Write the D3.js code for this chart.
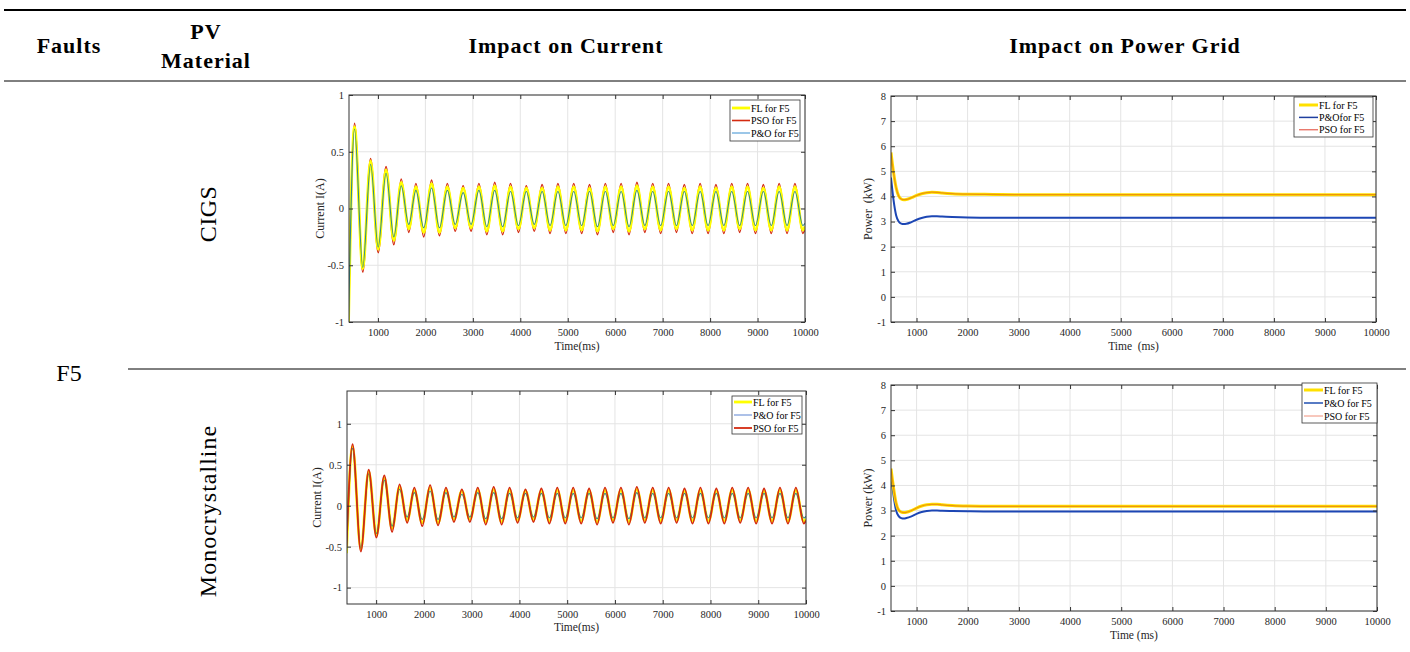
<!DOCTYPE html>
<html>
<head>
<meta charset="utf-8">
<script src="https://cdn.jsdelivr.net/npm/d3@7"></script>
<style>
  body { margin: 0; background: #fff; }
  svg text { font-family: "Liberation Serif", "Times New Roman", serif; }
</style>
</head>
<body>
<div id="chart"></div>
<script>
// Fault F5 table: current and grid power for two PV materials

// times (ms) of the current peaks / troughs
var currentTimes = [380, 506, 680, 845, 1005, 1170, 1335, 1490, 1650, 1800,
  1965, 2130, 2296, 2462, 2629, 2795, 2962, 3128, 3295, 3461,
  3628, 3794, 3961, 4127, 4294, 4460, 4627, 4793, 4960, 5126,
  5293, 5459, 5626, 5792, 5959, 6125, 6292, 6458, 6625, 6791,
  6958, 7124, 7291, 7457, 7624, 7790, 7957, 8123, 8290, 8456,
  8623, 8789, 8956, 9122, 9289, 9455, 9622, 9788, 9955, 10000];

// CIGS current (A) at those times
var cigsPsoCurrent = [-1.00, 0.75, -0.56, 0.44, -0.39, 0.37, -0.32, 0.26, -0.21, 0.22,
  -0.25, 0.25, -0.24, 0.22, -0.20, 0.20, -0.20, 0.22, -0.23, 0.23,
  -0.23, 0.22, -0.21, 0.20, -0.20, 0.21, -0.22, 0.22, -0.22, 0.22,
  -0.22, 0.21, -0.23, 0.22, -0.21, 0.22, -0.23, 0.23, -0.21, 0.22,
  -0.22, 0.22, -0.21, 0.21, -0.22, 0.22, -0.22, 0.21, -0.22, 0.22,
  -0.21, 0.22, -0.22, 0.21, -0.22, 0.22, -0.22, 0.22, -0.22, -0.18];
var cigsFlCurrent = [-1.00, 0.72, -0.53, 0.42, -0.36, 0.34, -0.28, 0.23, -0.18, 0.19,
  -0.21, 0.22, -0.21, 0.19, -0.17, 0.18, -0.17, 0.19, -0.20, 0.20,
  -0.20, 0.19, -0.18, 0.18, -0.17, 0.18, -0.19, 0.19, -0.19, 0.19,
  -0.19, 0.18, -0.20, 0.19, -0.18, 0.19, -0.20, 0.20, -0.18, 0.19,
  -0.19, 0.19, -0.18, 0.18, -0.19, 0.19, -0.19, 0.18, -0.19, 0.19,
  -0.18, 0.19, -0.19, 0.18, -0.19, 0.19, -0.19, 0.19, -0.19, -0.16];
var cigsPoCurrent = [-1.00, 0.70, -0.52, 0.39, -0.34, 0.31, -0.25, 0.20, -0.14, 0.16,
  -0.17, 0.18, -0.17, 0.16, -0.14, 0.14, -0.14, 0.16, -0.16, 0.16,
  -0.16, 0.15, -0.15, 0.15, -0.14, 0.15, -0.15, 0.15, -0.15, 0.15,
  -0.15, 0.15, -0.16, 0.15, -0.15, 0.15, -0.16, 0.16, -0.15, 0.15,
  -0.15, 0.15, -0.15, 0.15, -0.15, 0.15, -0.15, 0.15, -0.15, 0.15,
  -0.15, 0.15, -0.15, 0.15, -0.15, 0.15, -0.15, 0.15, -0.15, -0.13];

// Monocrystalline current looks the same, only the start differs
var monoPsoCurrent = [-0.50].concat(cigsPsoCurrent.slice(1));
var monoFlCurrent = [-0.58].concat(cigsFlCurrent.slice(1));
var monoPoCurrent = [-0.55].concat(cigsPoCurrent.slice(1));

// grid power (kW)
var powerTimes = [500, 550, 600, 650, 700, 750, 800, 900, 1000, 1100,
  1200, 1300, 1400, 1500, 1700, 2000, 2500, 3000, 5000, 7500, 10000];
var cigsFlPower = [5.75, 4.95, 4.35, 4.02, 3.90, 3.87, 3.88, 3.95, 4.04, 4.11,
  4.15, 4.17, 4.16, 4.14, 4.11, 4.09, 4.08, 4.07, 4.07, 4.07, 4.07];
var cigsPsoPower = [5.75, 4.95, 4.35, 4.02, 3.90, 3.87, 3.88, 3.95, 4.04, 4.11,
  4.15, 4.17, 4.16, 4.14, 4.11, 4.09, 4.08, 4.07, 4.07, 4.07, 4.07];
var cigsPoPower = [4.75, 3.85, 3.25, 3.00, 2.92, 2.90, 2.91, 2.98, 3.07, 3.14,
  3.19, 3.21, 3.21, 3.20, 3.18, 3.16, 3.15, 3.15, 3.15, 3.15, 3.15];
var monoFlPower = [4.67, 3.90, 3.30, 3.02, 2.94, 2.92, 2.93, 3.00, 3.10, 3.18,
  3.23, 3.25, 3.25, 3.23, 3.20, 3.18, 3.17, 3.17, 3.17, 3.17, 3.17];
var monoPsoPower = [4.67, 3.90, 3.30, 3.02, 2.94, 2.92, 2.93, 3.00, 3.10, 3.18,
  3.23, 3.25, 3.25, 3.23, 3.20, 3.18, 3.17, 3.17, 3.17, 3.17, 3.17];
var monoPoPower = [4.45, 3.60, 3.00, 2.78, 2.70, 2.68, 2.70, 2.77, 2.87, 2.94,
  2.98, 3.00, 3.00, 2.99, 2.98, 2.97, 2.96, 2.96, 2.96, 2.96, 2.96];

// tick labels
var timeTicks = [1000, 2000, 3000, 4000, 5000, 6000, 7000, 8000, 9000, 10000];
var currentTicks = [-1, -0.5, 0, 0.5, 1];
var powerTicks = [-1, 0, 1, 2, 3, 4, 5, 6, 7, 8];

// table texts
var headers = ["Faults", "Impact on Current", "Impact on Power Grid"];
var pvHeader = ["PV", "Material"];
var faultName = "F5";
var materials = ["CIGS", "Monocrystalline"];

// svg container
var svgWidth = 1410;
var svgHeight = 652;

var svg = d3.select("#chart").append("svg")
  .attr("width", svgWidth)
  .attr("height", svgHeight);

// table rules
svg.append("line").attr("x1", 4).attr("x2", 1406).attr("y1", 10).attr("y2", 10)
  .attr("stroke", "#000").attr("stroke-width", 2);
svg.append("line").attr("x1", 4).attr("x2", 1406).attr("y1", 81).attr("y2", 81)
  .attr("stroke", "#000").attr("stroke-width", 1);
svg.append("line").attr("x1", 128).attr("x2", 1406).attr("y1", 369).attr("y2", 369)
  .attr("stroke", "#000").attr("stroke-width", 1);

// header
var headerX = [69, 566, 1125];
headers.forEach(function(h, i) {
  svg.append("text")
    .attr("x", headerX[i]).attr("y", 53)
    .attr("text-anchor", "middle")
    .attr("font-size", 22).attr("font-weight", "bold")
    .attr("letter-spacing", 1)
    .text(h);
});
pvHeader.forEach(function(h, i) {
  svg.append("text")
    .attr("x", 206).attr("y", 39 + i * 29)
    .attr("text-anchor", "middle")
    .attr("font-size", 22).attr("font-weight", "bold")
    .attr("letter-spacing", 1)
    .text(h);
});

// left column
svg.append("text")
  .attr("x", 69).attr("y", 381)
  .attr("text-anchor", "middle")
  .attr("font-size", 24)
  .text(faultName);

var materialY = [214, 511];
var materialSpacing = [0.5, 1];
materials.forEach(function(m, i) {
  svg.append("text")
    .attr("transform", `translate(216, ${materialY[i]}) rotate(-90)`)
    .attr("text-anchor", "middle")
    .attr("font-size", 24)
    .attr("letter-spacing", materialSpacing[i])
    .text(m);
});

// one MATLAB-style panel
function drawPanel(p) {
  var w = p.right - p.left;
  var h = p.bottom - p.top;
  var g = svg.append("g").attr("transform", `translate(${p.left}, ${p.top})`);

  var x = d3.scaleLinear().domain(p.xDomain).range([0, w]);
  var y = d3.scaleLinear().domain(p.yDomain).range([h, 0]);

  // grid
  g.append("g").selectAll("line").data(p.xTicks).enter().append("line")
    .attr("x1", d => x(d)).attr("x2", d => x(d))
    .attr("y1", 0).attr("y2", h)
    .attr("stroke", "#e4e4e4");
  g.append("g").selectAll("line").data(p.yTicks).enter().append("line")
    .attr("x1", 0).attr("x2", w)
    .attr("y1", d => y(d)).attr("y2", d => y(d))
    .attr("stroke", "#e4e4e4");

  // lines
  g.append("clipPath").attr("id", "clip" + p.id)
    .append("rect").attr("width", w).attr("height", h);

  p.drawOrder.forEach(function(k) {
    var s = p.series[k];
    var line = d3.line()
      .x((d, i) => x(p.times[i]))
      .y(d => y(d))
      .curve(d3.curveMonotoneX);
    g.append("path")
      .datum(s.values)
      .attr("clip-path", `url(#clip${p.id})`)
      .attr("d", line)
      .attr("fill", "none")
      .attr("stroke", s.color)
      .attr("stroke-width", s.width)
      .attr("stroke-opacity", s.opacity || 1)
      .attr("stroke-linejoin", "round");
  });

  // axes, ticks pointing inward on all four sides
  var bottomAxis = d3.axisBottom(x).tickValues(p.xTicks).tickSize(-4).tickPadding(7)
    .tickFormat(d => String(d));
  var topAxis = d3.axisTop(x).tickValues(p.xTicks).tickSize(-4).tickFormat("");
  var leftAxis = d3.axisLeft(y).tickValues(p.yTicks).tickSize(-4).tickPadding(5)
    .tickFormat(d => String(d));
  var rightAxis = d3.axisRight(y).tickValues(p.yTicks).tickSize(-4).tickFormat("");

  var axes = [
    g.append("g").attr("transform", `translate(0, ${h})`).call(bottomAxis),
    g.append("g").call(topAxis),
    g.append("g").call(leftAxis),
    g.append("g").attr("transform", `translate(${w}, 0)`).call(rightAxis)
  ];
  axes.forEach(function(a) {
    a.attr("font-family", null).attr("font-size", 10.5);
    a.select(".domain").remove();
    a.selectAll("line").attr("stroke", "#333");
    a.selectAll("text").attr("fill", "#262626");
  });

  g.append("rect")
    .attr("width", w).attr("height", h)
    .attr("fill", "none")
    .attr("stroke", "#333")
    .attr("stroke-width", 1);

  // axis labels
  g.append("text")
    .attr("x", w / 2).attr("y", h + p.xLabelDy)
    .attr("text-anchor", "middle")
    .attr("font-size", 11.5)
    .attr("fill", "#262626")
    .style("white-space", "pre")
    .text(p.xLabel);
  g.append("text")
    .attr("transform", `translate(${p.yLabelDx}, ${h / 2}) rotate(-90)`)
    .attr("text-anchor", "middle")
    .attr("font-size", 12)
    .attr("fill", "#262626")
    .style("white-space", "pre")
    .text(p.yLabel);

  // legend
  var L = p.legend;
  var lg = svg.append("g").attr("transform", `translate(${L.x}, ${L.y})`);
  lg.append("rect")
    .attr("width", L.w).attr("height", L.h)
    .attr("fill", "#fff")
    .attr("stroke", "#333")
    .attr("stroke-width", 0.8);
  p.series.forEach(function(s, i) {
    var yy = L.row0 + i * L.rowH;
    lg.append("line")
      .attr("x1", L.sx1).attr("x2", L.sx2)
      .attr("y1", yy).attr("y2", yy)
      .attr("stroke", s.legendColor || s.color)
      .attr("stroke-width", s.legendWidth || s.width);
    lg.append("text")
      .attr("x", L.sx2 + 1).attr("y", yy + 3.5)
      .attr("font-size", 10)
      .attr("fill", "#000")
      .style("white-space", "pre")
      .text(s.label);
  });
}

// CIGS current
drawPanel({
  id: "a", left: 349, right: 805, top: 95, bottom: 322,
  xDomain: [390, 10000], yDomain: [-1, 1],
  xTicks: timeTicks, yTicks: currentTicks,
  times: currentTimes,
  xLabel: "Time(ms)", xLabelDy: 28, yLabel: "Current I(A)", yLabelDx: -25,
  series: [
    { label: "FL for F5", values: cigsFlCurrent, color: "#ffff00", width: 2.8 },
    { label: "PSO for F5", values: cigsPsoCurrent, color: "#d42a10", width: 1.6 },
    { label: "P&O for F5", values: cigsPoCurrent, color: "#2f8a8a", width: 1.1, legendColor: "#4b9ad6" }
  ],
  drawOrder: [1, 0, 2],
  legend: { x: 730, y: 100, w: 70, h: 41, row0: 8, rowH: 12.5, sx1: 2, sx2: 20 }
});

// CIGS power
drawPanel({
  id: "b", left: 891, right: 1376, top: 96, bottom: 322,
  xDomain: [500, 10000], yDomain: [-1, 8],
  xTicks: timeTicks, yTicks: powerTicks,
  times: powerTimes,
  xLabel: "Time  (ms)", xLabelDy: 28, yLabel: "Power  (kW)", yLabelDx: -19,
  series: [
    { label: "FL for F5", values: cigsFlPower, color: "#ffe000", width: 3 },
    { label: "P&Ofor F5", values: cigsPoPower, color: "#1c46b4", width: 2, legendColor: "#1f3f9f", legendWidth: 1.5 },
    { label: "PSO for F5", values: cigsPsoPower, color: "#e05a10", width: 1.2, opacity: 0.55, legendColor: "#e04030", legendWidth: 1 }
  ],
  drawOrder: [1, 0, 2],
  legend: { x: 1294, y: 97, w: 79, h: 40, row0: 8, rowH: 12.4, sx1: 5, sx2: 24 }
});

// Monocrystalline current
drawPanel({
  id: "c", left: 347, right: 806, top: 391, bottom: 604,
  xDomain: [390, 10000], yDomain: [-1.2, 1.4],
  xTicks: timeTicks, yTicks: currentTicks,
  times: currentTimes,
  xLabel: "Time(ms)", xLabelDy: 27, yLabel: "Current I(A)", yLabelDx: -26,
  series: [
    { label: "FL for F5", values: monoFlCurrent, color: "#ffff00", width: 2.8 },
    { label: "P&O for F5", values: monoPoCurrent, color: "#2f8a8a", width: 1.1, legendColor: "#6b8fd6" },
    { label: "PSO for F5", values: monoPsoCurrent, color: "#d42a10", width: 1.8 }
  ],
  drawOrder: [0, 1, 2],
  legend: { x: 732, y: 396, w: 70, h: 38, row0: 6, rowH: 13, sx1: 2, sx2: 20 }
});

// Monocrystalline power
drawPanel({
  id: "d", left: 891, right: 1377, top: 385, bottom: 611,
  xDomain: [500, 10000], yDomain: [-1, 8],
  xTicks: timeTicks, yTicks: powerTicks,
  times: powerTimes,
  xLabel: "Time (ms)", xLabelDy: 28, yLabel: "Power (kW)", yLabelDx: -19,
  series: [
    { label: "FL for F5", values: monoFlPower, color: "#ffe000", width: 3 },
    { label: "P&O for F5", values: monoPoPower, color: "#1c46b4", width: 2, legendColor: "#1f4fb0", legendWidth: 1.5 },
    { label: "PSO for F5", values: monoPsoPower, color: "#e05a10", width: 1.2, opacity: 0.55, legendColor: "#f0907a", legendWidth: 1 }
  ],
  drawOrder: [1, 0, 2],
  legend: { x: 1302, y: 383, w: 75, h: 40, row0: 7, rowH: 13, sx1: 2, sx2: 21 }
});
</script>
</body>
</html>
